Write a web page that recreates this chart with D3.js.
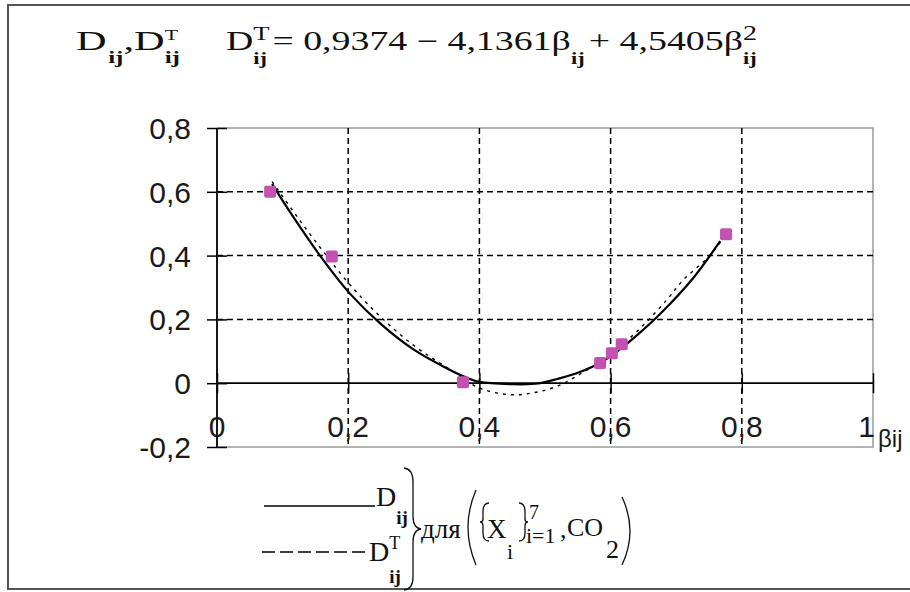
<!DOCTYPE html>
<html><head><meta charset="utf-8">
<script src="https://cdn.jsdelivr.net/npm/d3@7/dist/d3.min.js"></script>
<style>body{margin:0;background:#fff}svg{display:block}</style>
</head><body><svg id="c" width="910" height="592"></svg>
<script>
// ---- data ----
const xTicks = [0, 0.2, 0.4, 0.6, 0.8, 1];
const xTickLabels = ["0", "0,2", "0,4", "0,6", "0,8", "1"];
const yTicks = [-0.2, 0, 0.2, 0.4, 0.6, 0.8];
const yTickLabels = ["-0,2", "0", "0,2", "0,4", "0,6", "0,8"];
const gridX = [0.2, 0.4, 0.6, 0.8];
const gridY = [0.2, 0.4, 0.6];
const pointBeta = [0.081, 0.175, 0.375, 0.584, 0.602, 0.617, 0.776];
const pointD    = [0.600, 0.397, 0.003, 0.063, 0.094, 0.122, 0.467];
const solidBeta = [0.084, 0.115, 0.157, 0.203, 0.250, 0.300, 0.350, 0.380, 0.400, 0.450, 0.490, 0.520, 0.553, 0.585, 0.610, 0.640, 0.675, 0.726, 0.767];
const solidD    = [0.625, 0.525, 0.400, 0.280, 0.185, 0.105, 0.047, 0.018, 0.004, -0.003, -0.001, 0.014, 0.035, 0.065, 0.100, 0.150, 0.216, 0.330, 0.445];
const dashBeta  = [0.084, 0.120, 0.160, 0.203, 0.250, 0.300, 0.350, 0.400, 0.447, 0.482, 0.518, 0.553, 0.600, 0.645, 0.686, 0.710, 0.747, 0.777];
const dashD     = [0.632, 0.528, 0.418, 0.308, 0.207, 0.118, 0.050, -0.015, -0.036, -0.030, -0.010, 0.028, 0.090, 0.172, 0.262, 0.322, 0.392, 0.467];

const SERIF = "'Liberation Serif', 'Times New Roman', Times, serif";
const SANS = "'Liberation Sans', Arial, sans-serif";

const svg = d3.select("#c");
svg.append("rect").attr("width", 910).attr("height", 592).attr("fill", "#fff");

// outer frame
svg.append("path").attr("fill", "none").attr("stroke", "#555").attr("stroke-width", 2)
  .attr("d", "M920,5 H8 V589 H920");

const x = d3.scaleLinear().domain([0, 1]).range([217, 873]);
const y = d3.scaleLinear().domain([-0.2, 0.8]).range([447, 128]);

// plot area border (gray)
svg.append("path").attr("fill", "none").attr("stroke", "#9a9a9a").attr("stroke-width", 1.5)
  .attr("d", `M${x(0)},${y(0.8)} H${x(1)} V${y(-0.2)} H${x(0)}`);

// grid
const grid = svg.append("g").attr("stroke", "#000").attr("stroke-width", 1.5).attr("stroke-dasharray", "6,4");
grid.selectAll("line.gx").data(gridX).join("line").attr("x1", d => x(d)).attr("x2", d => x(d)).attr("y1", y(0.8)).attr("y2", y(-0.2));
grid.selectAll("line.gy").data(gridY).join("line").attr("y1", d => y(d)).attr("y2", d => y(d)).attr("x1", x(0)).attr("x2", x(1));

// axes (cross ticks)
const yAxis = d3.axisLeft(y).tickValues(yTicks).tickSize(10).tickFormat(() => "");
svg.append("g").attr("transform", `translate(${x(0)},0)`).call(yAxis)
  .call(g => g.select(".domain").remove())
  .call(g => g.selectAll(".tick line").attr("x1", -10).attr("x2", 10).attr("stroke", "#000").attr("stroke-width", 1.5));
svg.append("line").attr("x1", x(0)).attr("x2", x(0)).attr("y1", y(0.8)).attr("y2", y(-0.2)).attr("stroke", "#000").attr("stroke-width", 1.8);

const xAxis = d3.axisBottom(x).tickValues(xTicks).tickSize(10).tickFormat(() => "");
svg.append("g").attr("transform", `translate(0,${y(0)})`).call(xAxis)
  .call(g => g.select(".domain").remove())
  .call(g => g.selectAll(".tick line").attr("y1", -10).attr("y2", 10).attr("stroke", "#000").attr("stroke-width", 1.5));
svg.append("line").attr("x1", x(0)).attr("x2", x(1)).attr("y1", y(0)).attr("y2", y(0)).attr("stroke", "#000").attr("stroke-width", 1.8);

// tick labels
const lab = svg.append("g").attr("font-family", SANS).attr("font-size", 30).attr("fill", "#1a1a1a");
lab.selectAll("text.yl").data(yTicks).join("text").attr("x", 191).attr("y", d => y(d) + 11)
  .attr("text-anchor", "end").text((d, i) => yTickLabels[i]);
lab.selectAll("text.xl").data(xTicks).join("text").attr("x", d => x(d)).attr("y", 437)
  .attr("text-anchor", (d, i) => i === xTicks.length - 1 ? "end" : "middle")
  .attr("dx", (d, i) => i === xTicks.length - 1 ? 2 : 0)
  .text((d, i) => xTickLabels[i]);
lab.append("text").attr("x", 878).attr("y", 447).attr("font-size", 24).text("βij");

// curves
const line = d3.line().x(d => x(d[0])).y(d => y(d[1])).curve(d3.curveCatmullRom);
svg.append("path").datum(dashBeta.map((b, i) => [b, dashD[i]]))
  .attr("fill", "none").attr("stroke", "#000").attr("stroke-width", 1.4).attr("stroke-dasharray", "3,5").attr("d", line);
svg.append("path").datum(solidBeta.map((b, i) => [b, solidD[i]]))
  .attr("fill", "none").attr("stroke", "#000").attr("stroke-width", 2.2).attr("d", line);

// points
svg.selectAll("rect.pt").data(pointBeta).join("rect")
  .attr("x", d => x(d) - 6).attr("y", (d, i) => y(pointD[i]) - 6)
  .attr("width", 12).attr("height", 12).attr("rx", 2).attr("fill", "#c251b2");

// ---- math text helper ----
function mathRow(g, x0, yb, items, fs) {
  let cx = x0;
  items.forEach(it => {
    if (typeof it === "string") it = { t: it };
    let w = 0;
    if (it.t) {
      const t = g.append("text").attr("x", cx).attr("y", yb).attr("font-size", it.fs || fs).text(it.t);
      w = t.node().getComputedTextLength();
    }
    cx += w;
    let w2 = 0;
    if (it.sup) {
      const s = g.append("text").attr("x", cx + (it.supDx || 0)).attr("y", yb + (it.supDy != null ? it.supDy : -0.42 * fs))
        .attr("font-size", it.supFs || fs * 0.7).text(it.sup);
      w2 = Math.max(w2, s.node().getComputedTextLength() + (it.supDx || 0));
    }
    if (it.sub) {
      const s = g.append("text").attr("x", cx + (it.subDx || 0)).attr("y", yb + (it.subDy != null ? it.subDy : 0.42 * fs))
        .attr("font-size", it.subFs || fs * 0.7).attr("font-weight", it.subBold === false ? "normal" : "bold").text(it.sub);
      w2 = Math.max(w2, s.node().getComputedTextLength() + (it.subDx || 0));
    }
    cx += w2 + (it.after || 0);
  });
  return cx - x0;
}
// place a math row starting at xStart, stretched horizontally to end at xEnd
function stretchedRow(parent, xStart, xEnd, yb, items, fs) {
  const g = parent.append("g");
  const w = mathRow(g, 0, yb, items, fs);
  g.attr("transform", `translate(${xStart},0) scale(${(xEnd - xStart) / w},1)`);
  return g;
}

// header
const head = svg.append("g").attr("font-family", SERIF).attr("fill", "#111");
stretchedRow(head, 76, 180, 50, [
  { t: "D", sub: "ij", subDx: 1, subDy: 13, subFs: 16 },
  { t: ", " },
  { t: "D", sup: "T", sub: "ij", supFs: 14, supDy: -10, subDy: 13, subFs: 16 }
], 27);
stretchedRow(head, 226, 757, 50, [
  { t: "D", sup: "T", sub: "ij", supFs: 19, supDy: -10, subDy: 14, subFs: 16, after: 2 },
  { t: " = 0,9374 − 4,1361β", sub: "ij", subDy: 14, subFs: 16, after: 3 },
  { t: " + 4,5405β", sup: "2", sub: "ij", supFs: 20, supDy: -10, subDy: 14, subFs: 16 }
], 27);

// legend
const leg = svg.append("g").attr("font-family", SERIF).attr("fill", "#111");
leg.append("line").attr("x1", 264).attr("x2", 375).attr("y1", 506).attr("y2", 506).attr("stroke", "#000").attr("stroke-width", 1.5);
mathRow(leg, 376, 506, [{ t: "D", sub: "ij", subDy: 18, subFs: 19 }], 28);
leg.append("line").attr("x1", 262).attr("x2", 368).attr("y1", 552).attr("y2", 552).attr("stroke", "#000").attr("stroke-width", 1.5).attr("stroke-dasharray", "13,5");
mathRow(leg, 369, 561, [{ t: "D", sup: "T", sub: "ij", supFs: 18, supDy: -12, subDy: 22, subFs: 19 }], 28);

const br = leg.append("g").attr("fill", "none").attr("stroke", "#111").attr("stroke-width", 1.3);
br.append("path").attr("d", "M404,468 Q413,469 413,482 L413,516 Q413,528 421,529 Q413,530 413,542 L413,577 Q413,589 404,590");
leg.append("text").attr("x", 421).attr("y", 538).attr("font-size", 27).text("для");
br.append("path").attr("d", "M476,490 Q460,527 476,565");
br.append("path").attr("d", "M489,503 Q483,503 483,512 L483,519 Q483,522 480,522 Q483,522 483,526 L483,533 Q483,541 489,541");
leg.append("text").attr("x", 487).attr("y", 538).attr("font-size", 27).text("X");
leg.append("text").attr("x", 507).attr("y", 559).attr("font-size", 22).text("i");
br.append("path").attr("d", "M519,503 Q525,503 525,512 L525,519 Q525,522 528,522 Q525,522 525,526 L525,533 Q525,541 519,541");
leg.append("text").attr("x", 529).attr("y", 519).attr("font-size", 20).text("7");
leg.append("text").attr("x", 526).attr("y", 543).attr("font-size", 22).text("i=1");
leg.append("text").attr("x", 560).attr("y", 538).attr("font-size", 26).text(",");
leg.append("text").attr("x", 567).attr("y", 536).attr("font-size", 26).text("CO");
leg.append("text").attr("x", 606).attr("y", 558).attr("font-size", 26).text("2");
br.append("path").attr("d", "M622,497 Q638,531 622,565");
</script></body></html>
